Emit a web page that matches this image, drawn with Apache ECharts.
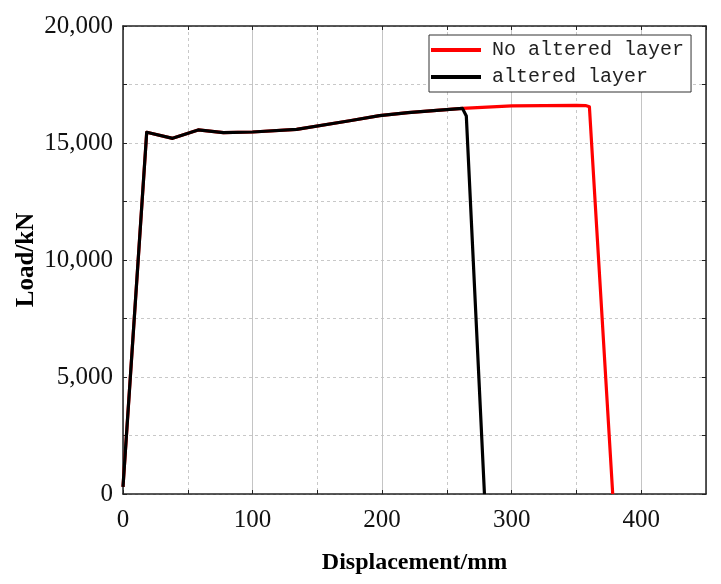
<!DOCTYPE html>
<html>
<head>
<meta charset="utf-8">
<script src="https://cdn.jsdelivr.net/npm/echarts@6/dist/echarts.min.js"></script>
<style>
html,body{margin:0;padding:0;background:#fff;}
#chart{width:721px;height:584px;}
</style>
</head>
<body>
<div id="chart"></div>
<script>
// ---- data ----
const seriesNames = ['No altered layer', 'altered layer'];
const dispNoAltered = [0, 18.3, 38.3, 58, 77.5, 100, 134, 175, 198, 220, 262, 300, 350, 357, 360, 378];
const loadNoAltered = [300, 15460, 15200, 15560, 15440, 15470, 15580, 15950, 16170, 16300, 16480, 16590, 16610, 16600, 16550, 0];
const dispAltered = [0, 18.3, 38.3, 58, 77.5, 100, 134, 175, 198, 220, 262, 265, 279];
const loadAltered = [300, 15460, 15200, 15560, 15440, 15470, 15580, 15950, 16170, 16300, 16480, 16150, 0];
const xTickValues = [0, 100, 200, 300, 400];
const xTickLabels = ['0', '100', '200', '300', '400'];
const yTickValues = [0, 5000, 10000, 15000, 20000];
const yTickLabels = ['0', '5,000', '10,000', '15,000', '20,000'];

const pairs = (xs, ys) => xs.map((x, i) => [x, ys[i]]);
const serif = '"Liberation Serif","Times New Roman",serif';
const axisCol = '#222';

const chart = echarts.init(document.getElementById('chart'), null, {renderer: 'canvas'});
const gridRect = {left: 123, top: 26, width: 583, height: 468};

const hiddenBase = {
  min: 0, axisLabel: {show: false}, axisLine: {show: false}, axisTick: {show: false}, splitLine: {show: false}
};

chart.setOption({
  animation: false,
  backgroundColor: '#fff',
  grid: Object.assign({containLabel: false, outerBoundsMode: 'none'}, gridRect),
  legend: {
    orient: 'vertical',
    left: 429, top: 35,
    width: 266,
    backgroundColor: '#fff',
    borderColor: '#333', borderWidth: 1,
    padding: [4, 7, 4, 2],
    itemGap: 5,
    itemWidth: 50, itemHeight: 4,
    icon: 'rect',
    textStyle: {fontFamily: '"Liberation Mono","DejaVu Sans Mono",monospace', fontSize: 20, color: '#222', lineHeight: 22, padding: [0, 0, 0, 6]},
    data: seriesNames
  },
  xAxis: [
    {
      type: 'value', min: 0, max: 450, interval: 50,
      name: 'Displacement/mm', nameLocation: 'middle', nameGap: 57, nameMoveOverlap: false,
      nameTextStyle: {fontFamily: serif, fontSize: 24, fontWeight: 'bold', color: '#000'},
      axisLine: {show: true, onZero: false, lineStyle: {color: axisCol, width: 1.5}},
      axisTick: {show: true, inside: true, length: 4, lineStyle: {color: axisCol}},
      axisLabel: {
        fontFamily: serif, fontSize: 25, color: '#111', margin: 14,
        showMaxLabel: false,
        formatter: v => { const i = xTickValues.indexOf(v); return i >= 0 ? xTickLabels[i] : ''; }
      },
      splitLine: {show: true, lineStyle: {color: '#c8c8c8', type: [3, 3], width: 1}}
    },
    Object.assign({}, hiddenBase, {
      type: 'value', max: 450, interval: 100,
      splitLine: {show: true, lineStyle: {color: '#c4c4c4', type: 'solid', width: 1}}
    }),
    {
      type: 'value', min: 0, max: 450, interval: 50, position: 'top',
      axisLine: {show: true, onZero: false, lineStyle: {color: axisCol, width: 1.5}},
      axisTick: {show: true, inside: true, length: 4, lineStyle: {color: axisCol}},
      axisLabel: {show: false}, splitLine: {show: false}
    }
  ],
  yAxis: [
    {
      type: 'value', min: 0, max: 20000, interval: 2500,
      name: 'Load/kN', nameLocation: 'middle', nameGap: 84, nameRotate: 90, nameMoveOverlap: false,
      nameTextStyle: {fontFamily: serif, fontSize: 25, fontWeight: 'bold', color: '#000'},
      axisLine: {show: true, onZero: false, lineStyle: {color: axisCol, width: 1.5}},
      axisTick: {show: true, inside: true, length: 4, lineStyle: {color: axisCol}},
      axisLabel: {
        fontFamily: serif, fontSize: 25, color: '#111', margin: 10,
        formatter: v => { const i = yTickValues.indexOf(v); return i >= 0 ? yTickLabels[i] : ''; }
      },
      splitLine: {show: true, lineStyle: {color: '#c8c8c8', type: [3, 3], width: 1}}
    },
    {
      type: 'value', min: 0, max: 20000, interval: 2500, position: 'right',
      axisLine: {show: true, onZero: false, lineStyle: {color: axisCol, width: 1.5}},
      axisTick: {show: true, inside: true, length: 4, lineStyle: {color: axisCol}},
      axisLabel: {show: false}, splitLine: {show: false}
    }
  ],
  series: [
    {
      name: seriesNames[0], type: 'line', xAxisIndex: 0, yAxisIndex: 0,
      data: pairs(dispNoAltered, loadNoAltered),
      showSymbol: false, symbol: 'none',
      lineStyle: {color: '#ff0000', width: 3.2, join: 'round'},
      itemStyle: {color: '#ff0000'}, z: 3
    },
    {
      name: seriesNames[1], type: 'line', xAxisIndex: 0, yAxisIndex: 0,
      data: pairs(dispAltered, loadAltered),
      showSymbol: false, symbol: 'none',
      lineStyle: {color: '#000000', width: 3.2, join: 'round'},
      itemStyle: {color: '#000000'}, z: 4
    }
  ]
});
</script>
</body>
</html>
